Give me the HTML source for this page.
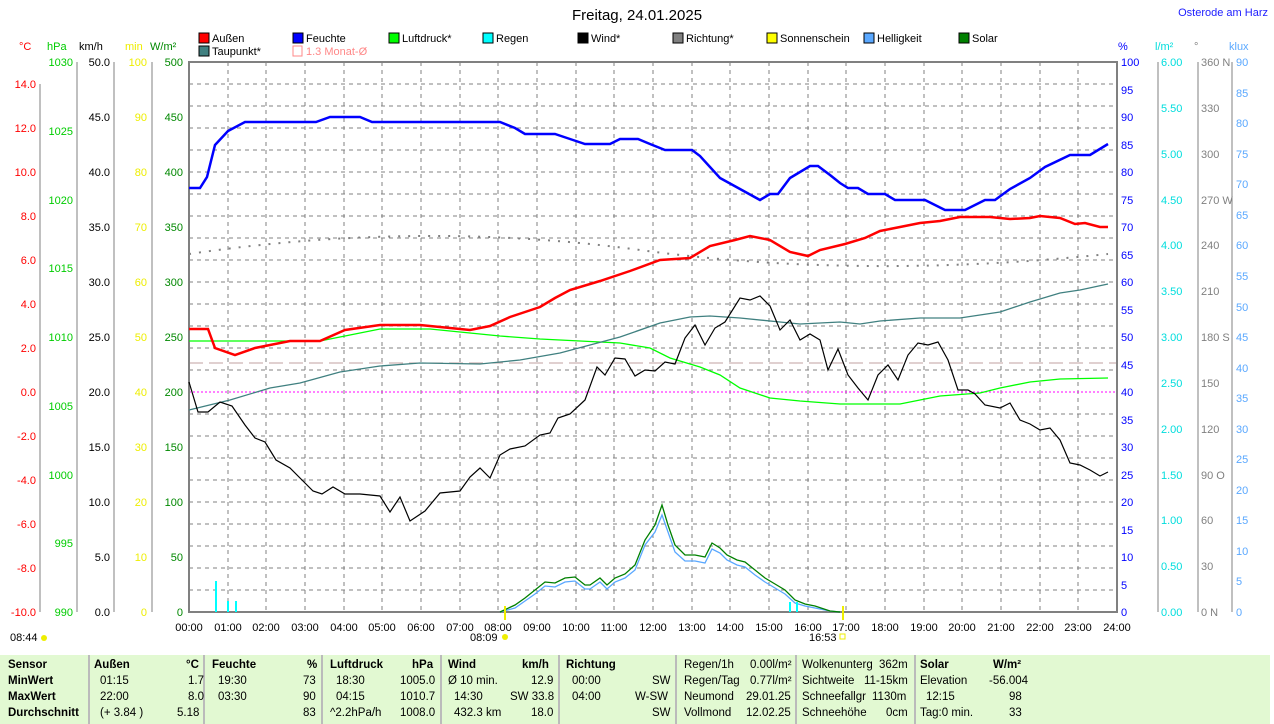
<!DOCTYPE html><html><head><meta charset="utf-8"><style>
body{margin:0;width:1274px;height:724px;background:#fff;overflow:hidden;font-family:"Liberation Sans",sans-serif}
svg{position:absolute;left:0;top:0}
text{font-family:"Liberation Sans",sans-serif;font-size:11px}
.tb{position:absolute;left:0;top:655px;width:1270px;height:69px;background:#e2f9d2;font-size:11.5px}
.c{position:absolute;top:0;height:69px;border-right:2px solid #bbb}
.r{position:absolute;white-space:nowrap}
.b{font-weight:bold}
</style></head><body>
<svg width="1274" height="724">
<text x="637" y="20" text-anchor="middle" style="font-size:15px">Freitag, 24.01.2025</text>
<text x="1268" y="16" text-anchor="end" fill="#2020ff" style="font-size:11px">Osterode am Harz</text>
<g>
<rect x="199" y="33" width="10" height="10" fill="#f00" stroke="#000"/><text x="212" y="42">Außen</text>
<rect x="293" y="33" width="10" height="10" fill="#00f" stroke="#000"/><text x="306" y="42">Feuchte</text>
<rect x="389" y="33" width="10" height="10" fill="#0f0" stroke="#000"/><text x="402" y="42">Luftdruck*</text>
<rect x="483" y="33" width="10" height="10" fill="#0ff" stroke="#000"/><text x="496" y="42">Regen</text>
<rect x="578" y="33" width="10" height="10" fill="#000" stroke="#000"/><text x="591" y="42">Wind*</text>
<rect x="673" y="33" width="10" height="10" fill="#808080" stroke="#000"/><text x="686" y="42">Richtung*</text>
<rect x="767" y="33" width="10" height="10" fill="#ff0" stroke="#000"/><text x="780" y="42">Sonnenschein</text>
<rect x="864" y="33" width="10" height="10" fill="#5aa8ff" stroke="#000"/><text x="877" y="42">Helligkeit</text>
<rect x="959" y="33" width="10" height="10" fill="#008000" stroke="#000"/><text x="972" y="42">Solar</text>
<rect x="199" y="46" width="10" height="10" fill="#408080" stroke="#000"/><text x="212" y="55">Taupunkt*</text>
<rect x="293" y="46" width="9" height="10" fill="none" stroke="#f88"/><text x="306" y="55" fill="#f88">1.3 Monat-Ø</text>
</g>
<g style="font-size:11px">
<text x="19" y="50" fill="#f00">°C</text><text x="47" y="50" fill="#0c0">hPa</text><text x="79" y="50">km/h</text><text x="125" y="50" fill="#ee0">min</text><text x="150" y="50" fill="#080">W/m²</text>
<text x="1118" y="50" fill="#00f">%</text><text x="1155" y="50" fill="#0dd">l/m²</text><text x="1194" y="50" fill="#808080">°</text><text x="1229" y="50" fill="#5aa8ff">klux</text>
</g>
<g stroke="#808080" stroke-width="1">
<line x1="40" y1="84" x2="40" y2="612"/><line x1="77" y1="62" x2="77" y2="612"/><line x1="114" y1="62" x2="114" y2="612"/><line x1="152" y1="62" x2="152" y2="612"/>
<line x1="1158" y1="62" x2="1158" y2="612"/><line x1="1198" y1="62" x2="1198" y2="612"/><line x1="1232" y1="62" x2="1232" y2="612"/>
</g>
<g fill="#f00" text-anchor="end">
<text x="36" y="88">14.0</text><text x="36" y="132">12.0</text><text x="36" y="176">10.0</text><text x="36" y="220">8.0</text><text x="36" y="264">6.0</text><text x="36" y="308">4.0</text><text x="36" y="352">2.0</text><text x="36" y="396">0.0</text><text x="36" y="440">-2.0</text><text x="36" y="484">-4.0</text><text x="36" y="528">-6.0</text><text x="36" y="572">-8.0</text><text x="36" y="616">-10.0</text>
</g>
<g fill="#0c0" text-anchor="end">
<text x="73" y="66">1030</text><text x="73" y="135">1025</text><text x="73" y="204">1020</text><text x="73" y="272">1015</text><text x="73" y="341">1010</text><text x="73" y="410">1005</text><text x="73" y="479">1000</text><text x="73" y="547">995</text><text x="73" y="616">990</text>
</g>
<g text-anchor="end">
<text x="110" y="66">50.0</text><text x="110" y="121">45.0</text><text x="110" y="176">40.0</text><text x="110" y="231">35.0</text><text x="110" y="286">30.0</text><text x="110" y="341">25.0</text><text x="110" y="396">20.0</text><text x="110" y="451">15.0</text><text x="110" y="506">10.0</text><text x="110" y="561">5.0</text><text x="110" y="616">0.0</text>
</g>
<g fill="#ee0" text-anchor="end">
<text x="147" y="66">100</text><text x="147" y="121">90</text><text x="147" y="176">80</text><text x="147" y="231">70</text><text x="147" y="286">60</text><text x="147" y="341">50</text><text x="147" y="396">40</text><text x="147" y="451">30</text><text x="147" y="506">20</text><text x="147" y="561">10</text><text x="147" y="616">0</text>
</g>
<g fill="#080" text-anchor="end">
<text x="183" y="66">500</text><text x="183" y="121">450</text><text x="183" y="176">400</text><text x="183" y="231">350</text><text x="183" y="286">300</text><text x="183" y="341">250</text><text x="183" y="396">200</text><text x="183" y="451">150</text><text x="183" y="506">100</text><text x="183" y="561">50</text><text x="183" y="616">0</text>
</g>
<g fill="#00f">
<text x="1121" y="66">100</text><text x="1121" y="94">95</text><text x="1121" y="121">90</text><text x="1121" y="149">85</text><text x="1121" y="176">80</text><text x="1121" y="204">75</text><text x="1121" y="231">70</text><text x="1121" y="259">65</text><text x="1121" y="286">60</text><text x="1121" y="314">55</text><text x="1121" y="341">50</text><text x="1121" y="369">45</text><text x="1121" y="396">40</text><text x="1121" y="424">35</text><text x="1121" y="451">30</text><text x="1121" y="479">25</text><text x="1121" y="506">20</text><text x="1121" y="534">15</text><text x="1121" y="561">10</text><text x="1121" y="589">5</text><text x="1121" y="616">0</text>
</g>
<g fill="#0dd">
<text x="1161" y="66">6.00</text><text x="1161" y="112">5.50</text><text x="1161" y="158">5.00</text><text x="1161" y="204">4.50</text><text x="1161" y="249">4.00</text><text x="1161" y="295">3.50</text><text x="1161" y="341">3.00</text><text x="1161" y="387">2.50</text><text x="1161" y="433">2.00</text><text x="1161" y="479">1.50</text><text x="1161" y="524">1.00</text><text x="1161" y="570">0.50</text><text x="1161" y="616">0.00</text>
</g>
<g fill="#808080">
<text x="1201" y="66">360 N</text><text x="1201" y="112">330</text><text x="1201" y="158">300</text><text x="1201" y="204">270 W</text><text x="1201" y="249">240</text><text x="1201" y="295">210</text><text x="1201" y="341">180 S</text><text x="1201" y="387">150</text><text x="1201" y="433">120</text><text x="1201" y="479">90  O</text><text x="1201" y="524">60</text><text x="1201" y="570">30</text><text x="1201" y="616">0  N</text>
</g>
<g fill="#5aa8ff">
<text x="1236" y="66">90</text><text x="1236" y="97">85</text><text x="1236" y="127">80</text><text x="1236" y="158">75</text><text x="1236" y="188">70</text><text x="1236" y="219">65</text><text x="1236" y="249">60</text><text x="1236" y="280">55</text><text x="1236" y="311">50</text><text x="1236" y="341">45</text><text x="1236" y="372">40</text><text x="1236" y="402">35</text><text x="1236" y="433">30</text><text x="1236" y="463">25</text><text x="1236" y="494">20</text><text x="1236" y="524">15</text><text x="1236" y="555">10</text><text x="1236" y="585">5</text><text x="1236" y="616">0</text>
</g>
<g stroke="#808080" stroke-dasharray="4,4">
<path d="M228 62V612M266 62V612M305 62V612M344 62V612M382 62V612M421 62V612M460 62V612M498 62V612M537 62V612M576 62V612M614 62V612M653 62V612M692 62V612M730 62V612M769 62V612M808 62V612M846 62V612M885 62V612M924 62V612M962 62V612M1001 62V612M1040 62V612M1078 62V612"/>
<path d="M189 84H1117M189 106H1117M189 128H1117M189 150H1117M189 172H1117M189 194H1117M189 216H1117M189 238H1117M189 260H1117M189 282H1117M189 304H1117M189 326H1117M189 348H1117M189 370H1117M189 414H1117M189 436H1117M189 458H1117M189 480H1117M189 502H1117M189 524H1117M189 546H1117M189 568H1117M189 590H1117"/>
</g>
<path d="M189 363H1117" stroke="#c0a0a0" stroke-dasharray="14,6"/>
<path d="M189 392H1117" stroke="#f0f" stroke-dasharray="2,2"/>
<rect x="189" y="62" width="928" height="550" fill="none" stroke="#808080" stroke-width="2"/>
<path d="M189 254 Q420 220 640 250 T1108 254" fill="none" stroke="#808080" stroke-width="2" stroke-dasharray="2,8"/>
<polyline fill="none" stroke="#0f0" stroke-width="1.3" points="189,341 320,341 350,335 380,329 430,329 470,333 500,336 540,339 620,343 650,348 670,358 700,367 720,375 740,388 770,398 800,401 840,404 900,404 920,400 940,396 980,393 1000,388 1030,382 1060,379 1108,378"/>
<polyline fill="none" stroke="#408080" stroke-width="1.3" points="189,410 230,400 270,388 300,383 340,372 380,366 420,363 480,364 520,360 560,353 620,337 660,323 690,317 710,316 740,318 780,322 800,324 840,322 860,324 880,321 920,318 960,318 1000,312 1030,302 1060,293 1080,290 1108,284"/>
<polyline fill="none" stroke="#000" stroke-width="1.2" points="189,382 198,412 208,412 220,402 232,406 245,425 255,438 265,442 276,460 290,468 300,478 313,491 322,494 333,487 345,494 360,494 380,496 390,512 400,497 410,521 425,511 440,493 460,491 470,477 480,468 490,478 500,455 510,449 525,446 540,435 550,433 558,418 570,414 585,400 597,367 605,375 615,358 625,359 635,376 645,370 655,371 665,362 675,364 685,338 695,325 705,345 715,328 725,322 740,298 750,300 760,296 770,306 780,330 790,320 800,340 810,334 820,340 828,370 838,349 848,375 858,388 868,400 878,375 888,365 898,380 908,355 918,343 928,345 938,342 948,360 958,390 968,390 975,394 985,405 1000,408 1010,403 1020,420 1030,424 1040,430 1050,428 1060,440 1070,463 1080,465 1090,470 1100,476 1108,472"/>
<polyline fill="none" stroke="#f00" stroke-width="2.5" points="189,329 208,329 215,348 235,355 255,348 290,341 320,341 345,330 380,325 420,325 450,328 470,330 490,326 510,317 540,307 555,298 570,290 600,281 630,271 660,260 690,258 710,246 735,240 750,236 770,240 790,252 808,256 820,250 845,244 865,238 880,231 900,227 920,223 940,221 960,217 990,217 1010,219 1030,218 1040,216 1060,218 1075,224 1085,223 1100,227 1108,227"/>
<polyline fill="none" stroke="#00f" stroke-width="2.5" points="189,188 200,188 207,177 215,145 228,131 245,122 316,122 330,117 360,117 372,122 500,122 515,128 525,134 555,134 570,139 585,144 610,144 620,139 638,139 650,144 665,150 692,150 700,156 720,178 740,189 760,200 770,194 778,194 790,178 810,166 818,166 830,175 840,183 848,188 858,188 868,194 885,194 895,200 925,200 945,210 965,210 985,200 995,200 1010,189 1030,178 1045,167 1070,155 1090,155 1108,144"/>
<polyline fill="none" stroke="#5aa8ff" stroke-width="1.3" points="500,612 515,608 525,601 535,594 545,586 555,587 565,582 575,581 585,589 590,589 600,582 607,589 615,582 625,578 635,570 645,545 655,532 662,515 668,532 675,552 685,561 695,561 705,563 712,549 720,553 727,560 737,565 745,567 755,575 765,582 775,588 785,594 795,603 805,606 815,608 830,611 840,612"/>
<polyline fill="none" stroke="#008000" stroke-width="1.3" points="500,612 515,605 525,598 535,590 545,582 555,583 565,578 575,577 585,585 590,585 600,578 607,585 615,578 625,574 635,565 645,540 655,525 662,505 668,525 675,545 685,555 695,555 705,557 712,543 720,548 727,555 737,560 745,562 755,570 765,578 775,584 785,590 795,600 805,604 815,606 830,611 840,612"/>
<g stroke="#0ff" stroke-width="2"><path d="M216 581V612M228 601V612M236 601V612M790 602V612M797 602V612"/></g>
<g stroke="#ee0" stroke-width="2"><path d="M505 606V620M843 606V620"/></g>
<g text-anchor="middle">
<text x="189" y="631">00:00</text><text x="228" y="631">01:00</text><text x="266" y="631">02:00</text><text x="305" y="631">03:00</text><text x="344" y="631">04:00</text><text x="382" y="631">05:00</text><text x="421" y="631">06:00</text><text x="460" y="631">07:00</text><text x="498" y="631">08:00</text><text x="537" y="631">09:00</text><text x="576" y="631">10:00</text><text x="614" y="631">11:00</text><text x="653" y="631">12:00</text><text x="692" y="631">13:00</text><text x="730" y="631">14:00</text><text x="769" y="631">15:00</text><text x="808" y="631">16:00</text><text x="846" y="631">17:00</text><text x="885" y="631">18:00</text><text x="924" y="631">19:00</text><text x="962" y="631">20:00</text><text x="1001" y="631">21:00</text><text x="1040" y="631">22:00</text><text x="1078" y="631">23:00</text><text x="1117" y="631">24:00</text>
</g>
<text x="10" y="641">08:44</text><circle cx="44" cy="638" r="3" fill="#ee0"/>
<text x="470" y="641">08:09</text><circle cx="505" cy="637" r="3" fill="#ee0"/>
<text x="809" y="641">16:53</text><rect x="840" y="634" width="5" height="5" fill="none" stroke="#ee0"/>
</svg>
<div class="tb">
<div class="c" style="left:0;width:88px"></div><div class="c" style="left:88px;width:115px"></div><div class="c" style="left:205px;width:116px"></div><div class="c" style="left:323px;width:117px"></div><div class="c" style="left:442px;width:116px"></div><div class="c" style="left:560px;width:115px"></div><div class="c" style="left:677px;width:118px"></div><div class="c" style="left:797px;width:117px"></div>
<div class="r b" style="left:8px;top:4px">Sensor</div><div class="r b" style="left:8px;top:20px">MinWert</div><div class="r b" style="left:8px;top:36px">MaxWert</div><div class="r b" style="left:8px;top:52px">Durchschnitt</div>
<div class="r b" style="left:94px;top:4px">Außen</div><div class="r b" style="left:186px;top:4px">°C</div>
<div class="r" style="left:100px;top:20px">01:15</div><div class="r" style="left:188px;top:20px">1.7</div>
<div class="r" style="left:100px;top:36px">22:00</div><div class="r" style="left:188px;top:36px">8.0</div>
<div class="r" style="left:100px;top:52px">(+ 3.84 )</div><div class="r" style="left:177px;top:52px">5.18</div>
<div class="r b" style="left:212px;top:4px">Feuchte</div><div class="r b" style="left:307px;top:4px">%</div>
<div class="r" style="left:218px;top:20px">19:30</div><div class="r" style="left:303px;top:20px">73</div>
<div class="r" style="left:218px;top:36px">03:30</div><div class="r" style="left:303px;top:36px">90</div>
<div class="r" style="left:303px;top:52px">83</div>
<div class="r b" style="left:330px;top:4px">Luftdruck</div><div class="r b" style="left:412px;top:4px">hPa</div>
<div class="r" style="left:336px;top:20px">18:30</div><div class="r" style="left:400px;top:20px">1005.0</div>
<div class="r" style="left:336px;top:36px">04:15</div><div class="r" style="left:400px;top:36px">1010.7</div>
<div class="r" style="left:330px;top:52px">^2.2hPa/h</div><div class="r" style="left:400px;top:52px">1008.0</div>
<div class="r b" style="left:448px;top:4px">Wind</div><div class="r b" style="left:522px;top:4px">km/h</div>
<div class="r" style="left:448px;top:20px">Ø 10 min.</div><div class="r" style="left:531px;top:20px">12.9</div>
<div class="r" style="left:454px;top:36px">14:30</div><div class="r" style="left:510px;top:36px">SW 33.8</div>
<div class="r" style="left:454px;top:52px">432.3 km</div><div class="r" style="left:531px;top:52px">18.0</div>
<div class="r b" style="left:566px;top:4px">Richtung</div>
<div class="r" style="left:572px;top:20px">00:00</div><div class="r" style="left:652px;top:20px">SW</div>
<div class="r" style="left:572px;top:36px">04:00</div><div class="r" style="left:635px;top:36px">W-SW</div>
<div class="r" style="left:652px;top:52px">SW</div>
<div class="r" style="left:684px;top:4px">Regen/1h</div><div class="r" style="left:750px;top:4px">0.00l/m²</div>
<div class="r" style="left:684px;top:20px">Regen/Tag</div><div class="r" style="left:750px;top:20px">0.77l/m²</div>
<div class="r" style="left:684px;top:36px">Neumond</div><div class="r" style="left:746px;top:36px">29.01.25</div>
<div class="r" style="left:684px;top:52px">Vollmond</div><div class="r" style="left:746px;top:52px">12.02.25</div>
<div class="r" style="left:802px;top:4px">Wolkenunterg</div><div class="r" style="left:879px;top:4px">362m</div>
<div class="r" style="left:802px;top:20px">Sichtweite</div><div class="r" style="left:864px;top:20px">11-15km</div>
<div class="r" style="left:802px;top:36px">Schneefallgr</div><div class="r" style="left:872px;top:36px">1130m</div>
<div class="r" style="left:802px;top:52px">Schneehöhe</div><div class="r" style="left:886px;top:52px">0cm</div>
<div class="r b" style="left:920px;top:4px">Solar</div><div class="r b" style="left:993px;top:4px">W/m²</div>
<div class="r" style="left:920px;top:20px">Elevation</div><div class="r" style="left:989px;top:20px">-56.004</div>
<div class="r" style="left:926px;top:36px">12:15</div><div class="r" style="left:1009px;top:36px">98</div>
<div class="r" style="left:920px;top:52px">Tag:0 min.</div><div class="r" style="left:1009px;top:52px">33</div>
</div>
</body></html>
